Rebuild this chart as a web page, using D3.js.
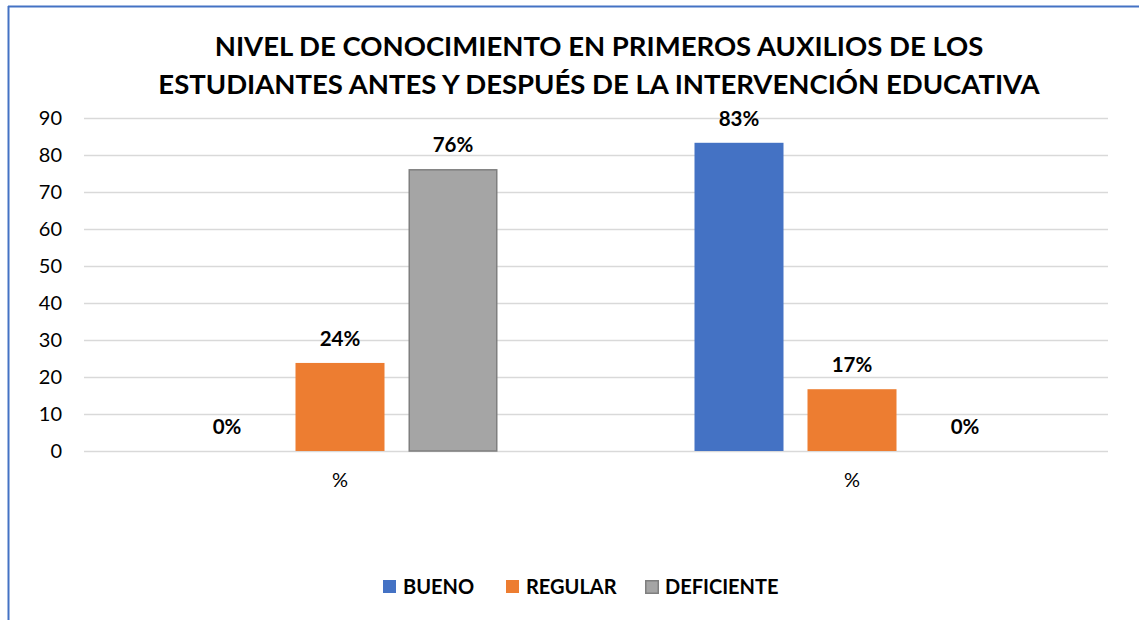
<!DOCTYPE html>
<html><head><meta charset="utf-8">
<script src="https://cdn.jsdelivr.net/npm/d3@7"></script>
<style>body{margin:0;background:#fff}svg{display:block}text{font-family:Lato,"Open Sans",sans-serif}</style>
</head><body><svg id="c" width="1139" height="620"></svg>
<script>
const categories = ["%", "%"];
const seriesNames = ["BUENO", "REGULAR", "DEFICIENTE"];
const bueno = [0, 83.3];
const regular = [23.8, 16.7];
const deficiente = [76.2, 0];
const yTicks = [0, 10, 20, 30, 40, 50, 60, 70, 80, 90];
const titleLines = ["NIVEL DE CONOCIMIENTO EN PRIMEROS AUXILIOS DE LOS", "ESTUDIANTES ANTES Y DESPUÉS DE LA INTERVENCIÓN EDUCATIVA"];
const colors = ["#4472c4", "#ed7d31", "#a5a5a5"];
const strokes = ["none", "none", "#7f7f7f"];

const svg = d3.select("#c");
// frame
svg.append("line").attr("x1", 8).attr("x2", 1139).attr("y1", 6.5).attr("y2", 6.5).attr("stroke", "#4472c4").attr("stroke-width", 2);
svg.append("line").attr("x1", 8.5).attr("x2", 8.5).attr("y1", 6).attr("y2", 620).attr("stroke", "#4472c4").attr("stroke-width", 2);

const pLeft = 84, pRight = 1108, pTop = 118, pBottom = 451;
const y = d3.scaleLinear().domain([0, 90]).range([pBottom, pTop]);
const idx = categories.map((d, i) => i);
const x0 = d3.scaleBand().domain(idx).range([pLeft, pRight]).paddingInner(0).paddingOuter(0);
const x1 = d3.scaleBand().domain(seriesNames).range([98.5, x0.bandwidth() - 98.5]).paddingInner(24 / 113);

// title
svg.append("text").attr("x", 599).attr("y", 0).attr("text-anchor", "middle")
  .style("font-size", "27.5px").style("font-weight", "bold").attr("fill", "#000")
  .selectAll("tspan").data(titleLines).join("tspan")
  .attr("x", 599).attr("y", (d, i) => 56 + i * 38).text(d => d);

// grid
const yAxis = d3.axisLeft(y).tickValues(yTicks).tickSize(-(pRight - pLeft)).tickPadding(22).tickFormat(d3.format("d"));
const gy = svg.append("g").attr("transform", `translate(${pLeft},0)`).call(yAxis);
gy.select(".domain").remove();
gy.selectAll(".tick line").attr("stroke", "#d9d9d9").attr("stroke-width", 1.5);
gy.selectAll(".tick text").style("font-size", "20px").attr("fill", "#000").style("font-family", "Lato,sans-serif");

// x axis
const xAxis = d3.axisBottom(x0).tickSize(0).tickPadding(22).tickFormat(i => categories[i]);
const gx = svg.append("g").attr("transform", `translate(0,${pBottom})`).call(xAxis);
gx.select(".domain").remove();
gx.selectAll(".tick text").style("font-size", "20px").attr("fill", "#000").style("font-family", "Lato,sans-serif");

const series = [bueno, regular, deficiente];
const data = [];
idx.forEach(i => series.forEach((s, k) => data.push({ i, k, v: s[i] })));

const g = svg.append("g");
g.selectAll("rect").data(data.filter(d => d.v > 0)).join("rect")
  .attr("x", d => x0(d.i) + x1(seriesNames[d.k]) + (d.k === 2 ? 0.75 : 0))
  .attr("y", d => y(d.v) + (d.k === 2 ? 0.75 : 0))
  .attr("width", d => x1.bandwidth() - (d.k === 2 ? 1.5 : 0))
  .attr("height", d => y(0) - y(d.v) - (d.k === 2 ? 0.75 : 0))
  .attr("fill", d => colors[d.k])
  .attr("stroke", d => strokes[d.k]).attr("stroke-width", 1.5);

g.selectAll("text.lbl").data(data).join("text").attr("class", "lbl")
  .attr("x", d => x0(d.i) + x1(seriesNames[d.k]) + x1.bandwidth() / 2)
  .attr("y", d => y(d.v) - 17)
  .attr("text-anchor", "middle").style("font-size", "20.5px").style("font-weight", "bold")
  .text(d => Math.round(d.v) + "%");

// legend
const legX = [383, 506, 645];
const lg = svg.append("g").selectAll("g").data(seriesNames).join("g")
  .attr("transform", (d, i) => `translate(${legX[i]},580)`);
lg.append("rect")
  .attr("x", (d, i) => i === 2 ? 0.75 : 0).attr("y", (d, i) => i === 2 ? 0.75 : 0)
  .attr("width", (d, i) => i === 2 ? 12.5 : 13).attr("height", (d, i) => i === 2 ? 12.5 : 13)
  .attr("fill", (d, i) => colors[i]).attr("stroke", (d, i) => strokes[i]).attr("stroke-width", 1.5);
lg.append("text").attr("x", 20).attr("y", 14).style("font-size", "20px").style("font-weight", "bold").text(d => d);
</script></body></html>
